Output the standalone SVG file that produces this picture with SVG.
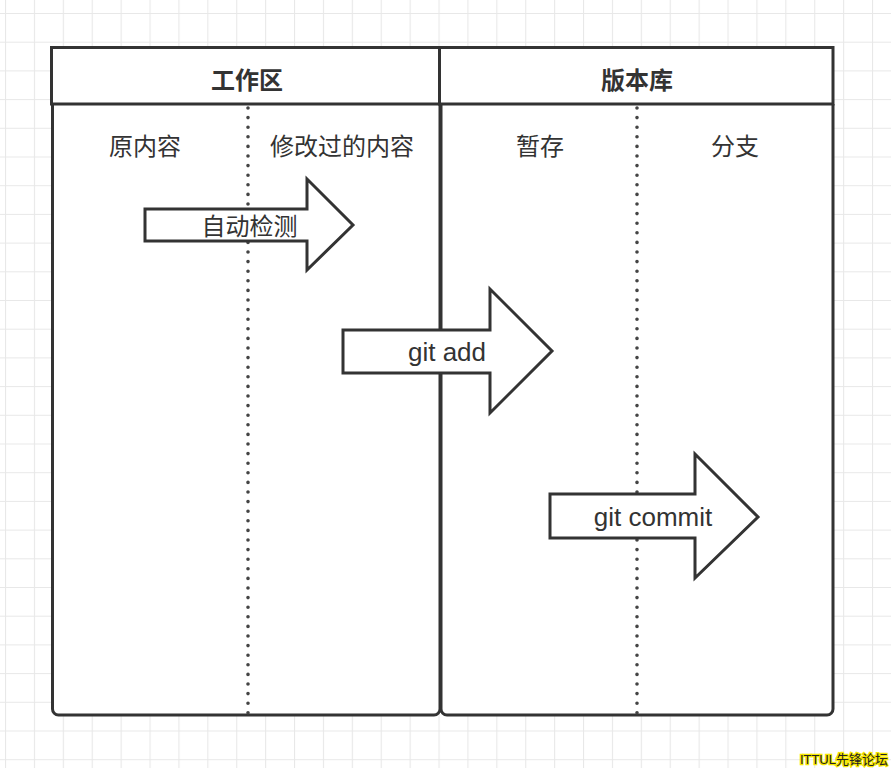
<svg xmlns="http://www.w3.org/2000/svg" width="891" height="768" viewBox="0 0 891 768">
<style>
.frame{fill:#fff;stroke:#333;stroke-width:3}
.dots{stroke:#444;stroke-width:3.6;stroke-linecap:round;stroke-dasharray:0 9.6;fill:none}
.arrow{fill:#fff;stroke:#333;stroke-width:3;stroke-linejoin:miter}
.cjk{font-family:"Noto Sans CJK SC","Noto Sans",sans-serif;font-size:24px;fill:#333;text-anchor:middle;dominant-baseline:central}
.hdr{font-weight:bold}
.lat{font-family:"Liberation Sans",Arial,sans-serif;font-size:26px;fill:#333;text-anchor:middle}
</style>
<defs>
<pattern id="grid" x="5" y="13" width="28.9" height="28.7" patternUnits="userSpaceOnUse">
<path d="M0.5 0V28.7M0 0.5H28.9" stroke="#e8e8e8" stroke-width="1.2" fill="none"/>
</pattern>
</defs>
<rect width="891" height="768" fill="#fff"/>
<rect width="891" height="768" fill="url(#grid)"/>

<g id="lane-work">
<path class="frame" d="M52.5 104V709a6 6 0 0 0 6 6H434a6 6 0 0 0 6-6V104"/>
<rect class="frame" x="51.5" y="47.5" width="388" height="56.5"/>
<text class="cjk hdr" x="247" y="78">工作区</text>
<line class="dots" x1="248" y1="108" x2="248" y2="714"/>
<text class="cjk" x="145" y="144">原内容</text>
<text class="cjk" x="342" y="144">修改过的内容</text>
</g>

<g id="lane-repo">
<path class="frame" d="M441 104V709a6 6 0 0 0 6 6H827a6 6 0 0 0 6-6V104"/>
<rect class="frame" x="439.5" y="47.5" width="393.5" height="56.5"/>
<text class="cjk hdr" x="637" y="78">版本库</text>
<line class="dots" x1="637" y1="108" x2="637" y2="714"/>
<text class="cjk" x="540" y="144">暂存</text>
<text class="cjk" x="735" y="144">分支</text>
</g>

<g id="connectors">
<g id="arrow-auto">
<polygon class="arrow" points="145,209 307,209 307,179 353,225 307,270 307,241 145,241"/>
<text class="cjk" x="249.5" y="224">自动检测</text>
</g>
<g id="arrow-add">
<polygon class="arrow" points="343,330 490,330 490,289 552,351 490,413 490,373 343,373"/>
<text class="lat" x="447" y="361">git add</text>
</g>
<g id="arrow-commit">
<polygon class="arrow" points="550,494 695,494 695,454 758,517 695,578 695,538 550,538"/>
<text class="lat" x="653" y="526">git commit</text>
</g>
</g>

<g id="watermark">
<text x="888" y="764" text-anchor="end" font-family="'Liberation Sans','Noto Sans CJK SC',sans-serif" font-size="13" fill="#222" stroke="#f5e600" stroke-width="2.5" paint-order="stroke">ITTUL先锋论坛</text>
</g>
</svg>
